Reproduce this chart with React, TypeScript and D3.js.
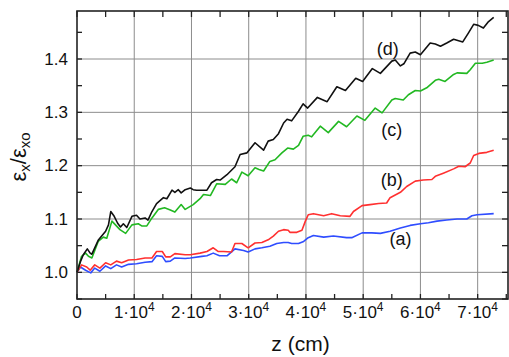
import * as d3 from 'd3';

// z in units of 10^4 cm, value = eps_x / eps_x0
const curveA: [number, number][] = [
  [0, 1.0], [0.06, 1.01], [0.15, 1.004], [0.24, 0.999], [0.31, 1.008], [0.4, 1.002],
  [0.5, 1.012], [0.59, 1.007], [0.69, 1.014], [0.78, 1.01], [0.9, 1.015], [1.04, 1.016],
  [1.19, 1.019], [1.31, 1.02], [1.39, 1.031], [1.49, 1.03], [1.55, 1.02], [1.63, 1.021],
  [1.71, 1.027], [1.89, 1.026], [1.98, 1.027], [2.18, 1.03], [2.27, 1.031], [2.38, 1.036],
  [2.49, 1.031], [2.62, 1.031], [2.76, 1.044], [2.91, 1.041], [2.99, 1.038], [3.11, 1.044],
  [3.23, 1.046], [3.37, 1.049], [3.49, 1.054], [3.61, 1.056], [3.69, 1.056], [3.75, 1.054],
  [3.87, 1.054], [3.96, 1.058], [4.04, 1.065], [4.13, 1.069], [4.31, 1.066], [4.48, 1.068],
  [4.71, 1.065], [4.8, 1.065], [4.98, 1.074], [5.15, 1.074], [5.3, 1.073], [5.47, 1.077],
  [5.65, 1.083], [5.82, 1.088], [6.0, 1.091], [6.14, 1.093], [6.29, 1.096], [6.46, 1.098],
  [6.64, 1.1], [6.81, 1.1], [6.9, 1.106], [6.99, 1.108], [7.28, 1.11],
];

const curveB: [number, number][] = [
  [0, 1.0], [0.08, 1.014], [0.17, 1.01], [0.23, 1.004], [0.31, 1.014], [0.4, 1.008],
  [0.5, 1.018], [0.59, 1.014], [0.69, 1.021], [0.78, 1.018], [0.9, 1.023], [1.04, 1.024],
  [1.19, 1.027], [1.31, 1.027], [1.39, 1.039], [1.49, 1.039], [1.55, 1.029], [1.63, 1.029],
  [1.71, 1.035], [1.89, 1.033], [1.98, 1.033], [2.15, 1.036], [2.27, 1.039], [2.38, 1.046],
  [2.47, 1.039], [2.56, 1.039], [2.7, 1.038], [2.76, 1.054], [2.88, 1.054], [2.99, 1.046],
  [3.11, 1.055], [3.23, 1.056], [3.34, 1.061], [3.43, 1.068], [3.52, 1.077], [3.61, 1.08],
  [3.69, 1.079], [3.72, 1.075], [3.84, 1.075], [3.93, 1.079], [3.99, 1.096], [4.04, 1.108],
  [4.13, 1.11], [4.31, 1.106], [4.45, 1.11], [4.6, 1.106], [4.77, 1.105], [4.83, 1.114],
  [4.98, 1.125], [5.12, 1.127], [5.27, 1.129], [5.41, 1.13], [5.47, 1.14], [5.65, 1.15],
  [5.76, 1.161], [5.91, 1.171], [6.05, 1.173], [6.2, 1.174], [6.26, 1.18], [6.4, 1.186],
  [6.58, 1.194], [6.67, 1.199], [6.78, 1.198], [6.87, 1.205], [6.93, 1.219], [7.02, 1.223],
  [7.16, 1.225], [7.28, 1.229],
];

const curveC: [number, number][] = [
  [0, 1.0], [0.08, 1.03], [0.15, 1.036], [0.2, 1.03], [0.26, 1.027], [0.37, 1.058],
  [0.46, 1.066], [0.52, 1.064], [0.61, 1.096], [0.68, 1.088], [0.75, 1.08], [0.85, 1.073],
  [0.96, 1.089], [1.07, 1.091], [1.13, 1.087], [1.22, 1.087], [1.31, 1.102], [1.42, 1.118],
  [1.53, 1.121], [1.63, 1.117], [1.71, 1.113], [1.82, 1.127], [1.89, 1.118], [2.03, 1.127],
  [2.15, 1.138], [2.21, 1.146], [2.33, 1.144], [2.44, 1.166], [2.59, 1.165], [2.7, 1.175],
  [2.79, 1.168], [2.88, 1.188], [2.99, 1.181], [3.11, 1.196], [3.18, 1.193], [3.26, 1.19],
  [3.37, 1.208], [3.46, 1.211], [3.58, 1.224], [3.68, 1.233], [3.78, 1.231], [3.87, 1.238],
  [3.95, 1.255], [4.04, 1.257], [4.1, 1.254], [4.25, 1.274], [4.39, 1.262], [4.57, 1.283],
  [4.71, 1.273], [4.89, 1.293], [5.03, 1.285], [5.21, 1.308], [5.33, 1.299], [5.5, 1.323],
  [5.56, 1.326], [5.7, 1.323], [5.79, 1.333], [5.91, 1.341], [6.0, 1.34], [6.11, 1.346],
  [6.26, 1.36], [6.32, 1.362], [6.43, 1.358], [6.58, 1.371], [6.64, 1.374], [6.81, 1.373],
  [6.87, 1.38], [6.96, 1.392], [7.08, 1.392], [7.16, 1.394], [7.28, 1.398],
];

const curveD: [number, number][] = [
  [0, 1.0], [0.06, 1.02], [0.11, 1.033], [0.18, 1.044], [0.23, 1.036], [0.26, 1.034],
  [0.37, 1.06], [0.5, 1.077], [0.55, 1.089], [0.59, 1.114], [0.65, 1.105], [0.71, 1.092],
  [0.76, 1.085], [0.81, 1.091], [0.87, 1.084], [0.96, 1.105], [1.04, 1.107], [1.1, 1.1],
  [1.19, 1.102], [1.24, 1.098], [1.31, 1.114], [1.39, 1.129], [1.51, 1.14], [1.57, 1.138],
  [1.66, 1.154], [1.71, 1.15], [1.77, 1.155], [1.82, 1.149], [1.89, 1.155], [1.98, 1.158],
  [2.03, 1.155], [2.09, 1.154], [2.27, 1.154], [2.35, 1.168], [2.44, 1.174], [2.5, 1.173],
  [2.62, 1.183], [2.76, 1.198], [2.85, 1.221], [2.97, 1.224], [3.11, 1.243], [3.26, 1.229],
  [3.34, 1.246], [3.43, 1.249], [3.52, 1.26], [3.61, 1.28], [3.67, 1.287], [3.75, 1.284],
  [3.87, 1.302], [3.95, 1.316], [4.03, 1.308], [4.2, 1.328], [4.37, 1.32], [4.54, 1.348],
  [4.69, 1.341], [4.87, 1.364], [4.99, 1.358], [5.16, 1.382], [5.3, 1.373], [5.5, 1.396],
  [5.56, 1.398], [5.65, 1.387], [5.71, 1.391], [5.82, 1.411], [5.91, 1.413], [6.0, 1.408],
  [6.17, 1.43], [6.26, 1.428], [6.35, 1.424], [6.46, 1.43], [6.58, 1.437], [6.74, 1.432],
  [6.84, 1.449], [6.93, 1.465], [7.01, 1.463], [7.1, 1.458], [7.18, 1.469], [7.28, 1.478],
];

const xMajor = [0, 1, 2, 3, 4, 5, 6, 7];
const xMinor = [0.5, 1.5, 2.5, 3.5, 4.5, 5.5, 6.5, 7.5];
const yMajor = [1.0, 1.1, 1.2, 1.3, 1.4];
const yMinor = [0.95, 1.05, 1.15, 1.25, 1.35, 1.45];

const series = [
  { name: '(a)', data: curveA, color: '#2f4dff', at: [5.65, 1.06] },
  { name: '(b)', data: curveB, color: '#ff3030', at: [5.5, 1.17] },
  { name: '(c)', data: curveC, color: '#22b822', at: [5.5, 1.265] },
  { name: '(d)', data: curveD, color: '#111111', at: [5.43, 1.417] },
];

const font = '"Liberation Sans", Arial, Helvetica, sans-serif';

export default function App() {
  const width = 509;
  const height = 357;
  const left = 77;
  const right = 508;
  const top = 11;
  const bottom = 299;

  const x = d3.scaleLinear().domain([0, 7.53]).range([left, right]);
  const y = d3.scaleLinear().domain([0.95, 1.49]).range([bottom, top]);

  const line = d3
    .line<[number, number]>()
    .x((d) => x(d[0]))
    .y((d) => y(d[1]));

  return (
    <svg
      width={width}
      height={height}
      style={{ position: 'absolute', left: 0, top: 0, background: '#fff' }}
      fontFamily={font}
    >
      {/* grid */}
      {xMajor.slice(1).map((t) => (
        <line key={'gx' + t} x1={x(t)} x2={x(t)} y1={top} y2={bottom} stroke="#8c8c8c" strokeWidth={1} />
      ))}
      {yMajor.map((t) => (
        <line key={'gy' + t} x1={left} x2={right} y1={y(t)} y2={y(t)} stroke="#8c8c8c" strokeWidth={1} />
      ))}

      {/* ticks, pointing inward on all four sides */}
      {[...xMajor, ...xMinor].map((t) => (
        <g key={'tx' + t}>
          <line x1={x(t)} x2={x(t)} y1={bottom} y2={bottom - 5} stroke="#222" strokeWidth={1.3} />
          <line x1={x(t)} x2={x(t)} y1={top} y2={top + 6} stroke="#222" strokeWidth={1.3} />
        </g>
      ))}
      {[...yMajor, ...yMinor].map((t) => (
        <g key={'ty' + t}>
          <line x1={left} x2={left + 5} y1={y(t)} y2={y(t)} stroke="#222" strokeWidth={1.3} />
          <line x1={right} x2={right - 6} y1={y(t)} y2={y(t)} stroke="#222" strokeWidth={1.3} />
        </g>
      ))}

      {/* curves */}
      {series.map((s) => (
        <path
          key={s.name}
          d={line(s.data)!}
          fill="none"
          stroke={s.color}
          strokeWidth={1.6}
          strokeLinejoin="round"
        />
      ))}

      {/* curve labels */}
      {series.map((s) => (
        <text
          key={'l' + s.name}
          x={x(s.at[0])}
          y={y(s.at[1])}
          textAnchor="middle"
          dominantBaseline="middle"
          fontSize={18}
          fill="#111"
        >
          {s.name}
        </text>
      ))}

      {/* frame */}
      <rect
        x={left}
        y={top}
        width={right - left}
        height={bottom - top}
        fill="none"
        stroke="#222"
        strokeWidth={1.6}
      />

      {/* x tick labels */}
      {xMajor.map((t) => (
        <text key={'lx' + t} x={x(t)} y={318} textAnchor="middle" fontSize={17} fill="#111">
          {t === 0 ? (
            '0'
          ) : (
            <>
              {`${t}\u00b710`}
              <tspan fontSize={12} dy={-7}>
                4
              </tspan>
            </>
          )}
        </text>
      ))}

      {/* y tick labels */}
      {yMajor.map((t) => (
        <text
          key={'ly' + t}
          x={left - 9}
          y={y(t)}
          textAnchor="end"
          dominantBaseline="central"
          fontSize={17}
          fill="#111"
        >
          {d3.format('.1f')(t)}
        </text>
      ))}

      {/* axis titles */}
      <text x={(left + right) / 2 + 8} y={351} textAnchor="middle" fontSize={21} fill="#111">
        z (cm)
      </text>
      <text
        transform="translate(26,157) rotate(-90)"
        textAnchor="middle"
        fontSize={22}
        fill="#111"
      >
        ε
        <tspan fontSize={15} dy={4}>
          x
        </tspan>
        <tspan dy={-4}>/ε</tspan>
        <tspan fontSize={15} dy={4}>
          xo
        </tspan>
      </text>
    </svg>
  );
}
